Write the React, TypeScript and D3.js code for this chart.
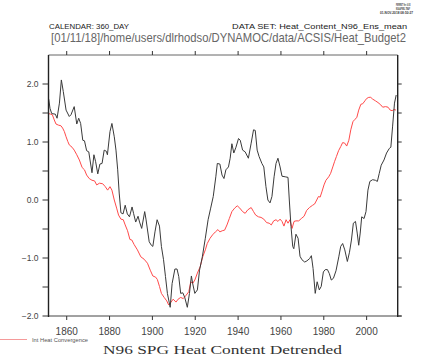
import React from "react";
import * as d3 from "d3";

const blackYears = [1851.6,1852.2,1853.0,1854.7,1855.5,1856.6,1857.5,1858.4,1859.7,1861.2,1862.0,1863.5,1864.7,1865.6,1866.5,1867.5,1868.3,1869.3,1870.3,1871.8,1872.7,1873.5,1874.5,1875.5,1876.5,1877.5,1878.5,1879.0,1880.2,1881.1,1882.2,1883.0,1883.8,1884.5,1885.3,1886.3,1887.3,1888.3,1889.3,1890.5,1891.2,1892.2,1893.3,1894.0,1895.0,1896.4,1897.0,1898.5,1899.5,1900.2,1901.2,1902.2,1903.3,1904.2,1905.2,1906.1,1907.0,1908.3,1909.2,1910.5,1911.5,1912.3,1913.2,1914.2,1915.1,1916.3,1917.3,1918.2,1918.8,1919.8,1921.0,1922.0,1923.3,1924.7,1926.0,1927.2,1928.4,1929.6,1930.3,1931.5,1932.5,1933.4,1934.3,1935.5,1936.3,1937.1,1938.0,1939.0,1940.2,1941.0,1942.1,1943.3,1944.8,1946.1,1947.2,1948.0,1948.9,1949.8,1951.1,1952.0,1953.0,1953.9,1954.9,1955.8,1956.8,1957.7,1958.6,1959.6,1960.5,1962.0,1963.3,1963.9,1964.7,1965.5,1966.0,1967.0,1968.0,1968.9,1969.8,1971.1,1972.1,1973.4,1974.2,1975.0,1976.0,1976.9,1977.9,1978.8,1979.8,1980.7,1981.7,1982.6,1983.5,1984.5,1985.7,1987.0,1987.9,1988.8,1989.8,1991.0,1992.0,1992.9,1993.8,1994.8,1995.6,1996.3,1997.0,1997.7,1998.8,1999.7,2000.6,2001.5,2002.8,2004.1,2005.0,2005.9,2006.8,2008.1,2009.3,2010.6,2011.3,2012.1,2013.0,2013.8];
const blackValues = [1.74,1.58,1.49,1.48,1.41,1.67,2.07,1.87,1.55,1.44,1.47,1.61,1.31,1.41,1.32,1.03,1.02,0.85,0.83,0.47,0.78,0.66,0.45,0.62,0.63,0.86,0.84,0.78,1.18,1.32,1.09,0.86,0.52,0.12,-0.22,-0.24,-0.09,-0.24,-0.29,-0.12,-0.23,-0.38,-0.28,-0.38,-0.49,-0.20,-0.33,-0.72,-0.78,-0.80,-0.55,-0.34,-0.45,-0.80,-1.03,-1.32,-1.61,-1.85,-1.44,-1.19,-1.19,-1.32,-1.61,-1.60,-1.68,-1.85,-1.61,-1.31,-1.44,-1.61,-1.55,-1.21,-0.98,-0.66,-0.34,-0.14,0.06,0.40,0.63,0.62,0.43,0.37,0.52,0.57,0.72,0.97,0.81,0.91,1.06,1.03,0.86,0.83,0.72,0.98,1.21,1.20,0.86,0.75,0.63,0.57,0.23,0.00,-0.05,0.06,0.40,0.63,0.72,0.57,0.41,0.40,0.39,0.00,-0.46,-0.80,-0.84,-0.59,-0.66,-0.97,-1.03,-1.07,-1.05,-1.01,-0.96,-1.18,-1.61,-1.41,-1.55,-1.49,-1.24,-1.20,-1.20,-1.27,-1.38,-1.35,-1.22,-0.98,-0.80,-0.75,-0.86,-1.06,-0.90,-0.69,-0.40,-0.37,-0.57,-0.78,-0.57,-0.29,-0.32,-0.20,0.17,0.32,0.35,0.34,0.32,0.46,0.60,0.69,0.81,0.89,0.91,1.26,1.67,1.81];

const redYears = [1851.6,1852.5,1853.3,1854.2,1855.0,1856.2,1857.3,1858.1,1858.9,1859.7,1860.5,1861.2,1862.5,1863.5,1864.7,1865.9,1867.2,1868.3,1869.3,1870.5,1871.8,1873.0,1874.0,1875.3,1876.8,1878.0,1879.1,1880.2,1881.1,1882.2,1883.3,1884.2,1885.3,1886.4,1887.3,1888.4,1889.5,1890.4,1891.5,1893.0,1894.6,1896.1,1897.7,1899.0,1900.2,1901.5,1902.3,1903.3,1904.2,1905.5,1906.7,1907.6,1908.5,1909.7,1911.0,1912.0,1913.2,1914.4,1915.8,1917.0,1917.9,1918.8,1919.8,1921.0,1922.3,1923.5,1924.7,1925.6,1926.9,1928.1,1929.4,1930.6,1931.5,1932.6,1933.7,1934.8,1935.9,1937.1,1938.4,1939.6,1940.8,1942.1,1943.3,1944.5,1946.1,1947.2,1948.2,1949.5,1950.7,1952.0,1953.3,1954.5,1955.5,1956.6,1957.7,1958.6,1959.6,1960.5,1961.4,1962.4,1963.3,1964.2,1965.2,1966.1,1967.0,1968.3,1969.5,1970.8,1972.0,1973.3,1974.8,1975.7,1976.7,1977.5,1978.3,1979.1,1980.1,1981.0,1982.3,1983.2,1984.2,1985.0,1985.9,1986.9,1987.9,1988.8,1989.8,1990.7,1991.7,1992.6,1993.6,1994.5,1995.4,1996.3,1997.3,1998.2,1999.2,2000.0,2001.0,2001.9,2002.8,2004.1,2005.3,2006.6,2007.5,2008.8,2010.0,2011.0,2011.9,2012.8,2013.7];
const redValues = [1.49,1.48,1.47,1.38,1.31,1.29,1.28,1.24,1.18,1.09,1.01,0.95,0.91,0.86,0.78,0.69,0.56,0.52,0.43,0.37,0.34,0.33,0.26,0.29,0.28,0.23,0.17,0.23,0.17,0.00,-0.14,-0.26,-0.33,-0.34,-0.43,-0.53,-0.68,-0.69,-0.77,-0.86,-0.98,-1.02,-1.09,-1.21,-1.31,-1.33,-1.37,-1.49,-1.61,-1.68,-1.74,-1.81,-1.77,-1.71,-1.76,-1.71,-1.68,-1.70,-1.64,-1.58,-1.41,-1.44,-1.38,-1.26,-1.15,-0.98,-0.86,-0.75,-0.66,-0.60,-0.55,-0.51,-0.55,-0.53,-0.52,-0.43,-0.32,-0.20,-0.14,-0.10,-0.14,-0.20,-0.23,-0.17,-0.13,-0.20,-0.26,-0.29,-0.30,-0.33,-0.39,-0.40,-0.43,-0.36,-0.34,-0.37,-0.33,-0.37,-0.45,-0.34,-0.40,-0.34,-0.49,-0.37,-0.36,-0.36,-0.32,-0.28,-0.18,-0.13,-0.09,-0.07,0.00,0.06,0.05,0.14,0.26,0.34,0.40,0.46,0.57,0.66,0.75,0.85,0.92,0.99,0.98,0.93,1.03,1.21,1.35,1.39,1.42,1.55,1.65,1.66,1.71,1.75,1.77,1.77,1.74,1.71,1.68,1.64,1.60,1.61,1.60,1.55,1.54,1.56,1.55];

const xTicks = [1860, 1880, 1900, 1920, 1940, 1960, 1980, 2000];
const yMajorTicks = [-2, -1, 0, 1, 2];
const yMinorTicks = [-1.5, -0.5, 0.5, 1.5];
const yTickLabels = ["\u22122.0", "\u22121.0", "0.0", "1.0", "2.0"];

const headerLeft = "CALENDAR: 360_DAY";
const headerRight = "DATA SET: Heat_Content_N96_Ens_mean";
const pathLabel = "[01/11/18]/home/users/dlrhodso/DYNAMOC/data/ACSIS/Heat_Budget2";
const ferretLines = ["FERRET Ver. 6.93", "NOAA/PMEL TMAP", "01-NOV-2018 08:50:27"];
const legendLabel = "Int Heat Convergence";
const title = "N96 SPG Heat Content Detrended";

export default function App() {
  const L = 48.5, R = 397.7, T = 55, B = 316;
  const x = d3.scaleLinear().domain([1851.5, 2014.5]).range([L, R]);
  const y = d3.scaleLinear().domain([-2, 2.5]).range([B, T]);
  const line = d3.line<[number, number]>().x(d => x(d[0])).y(d => y(d[1]));
  const blackPts = blackYears.map((yr, i) => [yr, blackValues[i]] as [number, number]);
  const redPts = redYears.map((yr, i) => [yr, redValues[i]] as [number, number]);
  const sans = "'Liberation Sans', Arial, sans-serif";
  const allY = [...yMajorTicks, ...yMinorTicks];
  const ferretPos = [[396, 14.5], [396, 14], [380, 33]];
  return (
    <svg width={421} height={356} style={{ position: "fixed", left: 0, top: 0, background: "#fff" }}>
      <rect x={0} y={0} width={421} height={356} fill="#fff" />
      {ferretLines.map((t, i) => (
        <g key={t} transform={`translate(${ferretPos[i][0]},${6 + i * 4.2}) scale(0.5,1)`}>
          <text x={0} y={0} fontSize={3.2} fontFamily={sans} fontWeight="bold" fill="#333"
            textLength={ferretPos[i][1] * 2} lengthAdjust="spacingAndGlyphs">{t}</text>
        </g>
      ))}
      <text x={49} y={28.5} fontSize={8} fontFamily={sans} fill="#222" textLength={80} lengthAdjust="spacingAndGlyphs">{headerLeft}</text>
      <text x={232} y={28.5} fontSize={8} fontFamily={sans} fill="#222" textLength={175} lengthAdjust="spacingAndGlyphs">{headerRight}</text>
      <g transform="translate(51,42) scale(1,1.2)">
        <text x={0} y={0} fontSize={11} fontFamily={sans} fill="#666" textLength={355} lengthAdjust="spacingAndGlyphs">{pathLabel}</text>
      </g>

      <path d={line(redPts) || ""} fill="none" stroke="#ff4a4a" strokeWidth={1} />
      <path d={line(blackPts) || ""} fill="none" stroke="#3a3a3a" strokeWidth={1} />

      <line x1={L} x2={R} y1={T} y2={T} stroke="#666" strokeWidth={1} />
      <line x1={L} x2={R + 4} y1={B} y2={B} stroke="#444" strokeWidth={1} />
      <line x1={L} x2={L} y1={T} y2={B + 1} stroke="#222" strokeWidth={1.4} />
      <line x1={R} x2={R} y1={T} y2={B + 1} stroke="#222" strokeWidth={1.4} />

      {xTicks.map(t => (
        <g key={t}>
          <line x1={x(t)} x2={x(t)} y1={T} y2={T - 4} stroke="#333" strokeWidth={1} />
          <line x1={x(t)} x2={x(t)} y1={B} y2={B + 4} stroke="#333" strokeWidth={1} />
          <text x={x(t)} y={334.5} textAnchor="middle" fontSize={10} fontFamily={sans} fill="#444">{t}</text>
        </g>
      ))}
      {allY.map(t => (
        <g key={t}>
          <line x1={L - 6} x2={L} y1={y(t)} y2={y(t)} stroke="#333" strokeWidth={1} />
          <line x1={R} x2={R + 4} y1={y(t)} y2={y(t)} stroke="#333" strokeWidth={1} />
        </g>
      ))}
      {yMajorTicks.map((t, i) => (
        <text key={t} x={38.5} y={y(t) + 3} textAnchor="end" fontSize={8.5} fontFamily={sans} fill="#444">{yTickLabels[i]}</text>
      ))}

      <line x1={0} x2={27} y1={339.5} y2={339.5} stroke="#f59a9a" strokeWidth={1} />
      <text x={32} y={341.5} fontSize={4.5} fontFamily={sans} fill="#555" textLength={56} lengthAdjust="spacingAndGlyphs">{legendLabel}</text>

      <text x={103} y={354} fontSize={13} fontFamily="'Liberation Serif', 'DejaVu Serif', serif" fill="#333" textLength={239} lengthAdjust="spacingAndGlyphs">{title}</text>
    </svg>
  );
}
